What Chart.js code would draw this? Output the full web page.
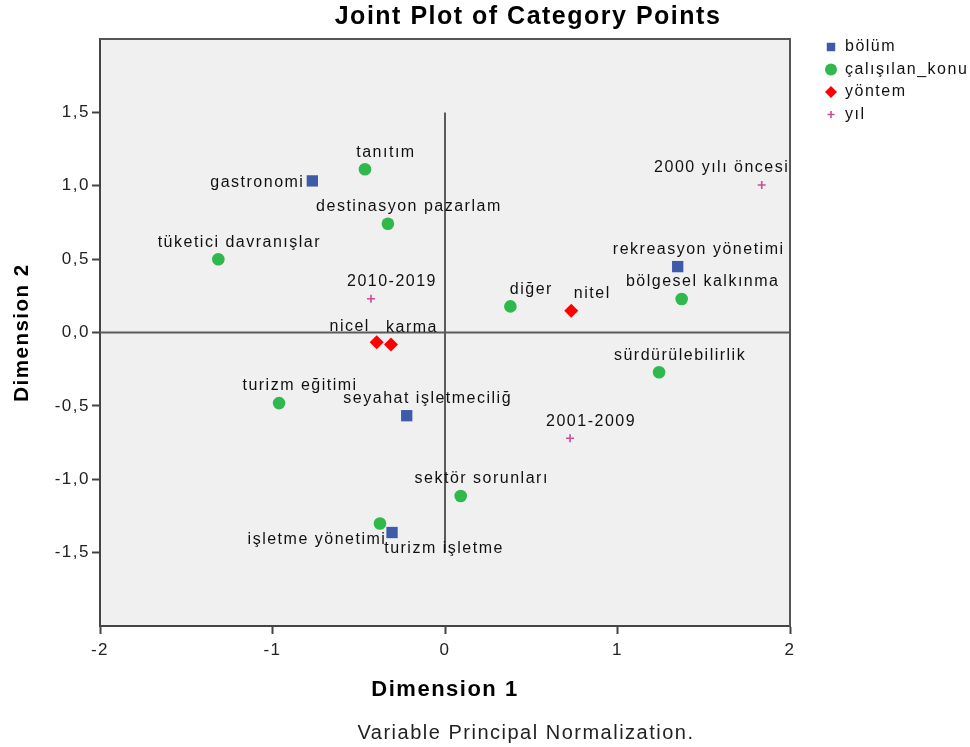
<!DOCTYPE html>
<html><head><meta charset="utf-8">
<script src="https://cdn.jsdelivr.net/npm/chart.js@4/dist/chart.umd.min.js"></script>
<style>html,body{margin:0;padding:0;background:#fff}#wrap{width:970px;height:747px;position:relative}</style>
</head><body><div id="wrap"><canvas id="c"></canvas></div>
<script>
// ---- data ----
const bolumLabels = ['gastronomi', 'rekreasyon yönetimi', 'seyahat işletmeciliğ', 'turizm işletme'];
const bolumX = [-0.769, 1.349, -0.222, -0.307];
const bolumY = [1.033, 0.449, -0.567, -1.363];

const konuLabels = ['tanıtım', 'destinasyon pazarlam', 'tüketici davranışlar', 'diğer', 'bölgesel kalkınma', 'sürdürülebilirlik', 'turizm eğitimi', 'sektör sorunları', 'işletme yönetimi'];
const konuX = [-0.464, -0.331, -1.314, 0.379, 1.372, 1.241, -0.962, 0.091, -0.377];
const konuY = [1.112, 0.741, 0.499, 0.178, 0.228, -0.271, -0.481, -1.114, -1.302];

const yontemLabels = ['nicel', 'karma', 'nitel'];
const yontemX = [-0.396, -0.313, 0.732];
const yontemY = [-0.066, -0.081, 0.149];

const yilLabels = ['2000 yılı öncesi', '2010-2019', '2001-2009'];
const yilX = [1.836, -0.429, 0.725];
const yilY = [1.005, 0.230, -0.721];

const seriesNames = ['bölüm', 'çalışılan_konu', 'yöntem', 'yıl'];
const xTicks = [-2, -1, 0, 1, 2];
const yTicks = [-1.5, -1.0, -0.5, 0.0, 0.5, 1.0, 1.5];

const chartTitle = 'Joint Plot of Category Points';
const chartSubtitle = 'Variable Principal Normalization.';
const xTitle = 'Dimension 1';
const yTitle = 'Dimension 2';

// ---- build ----
const FONT = "'Liberation Sans', Arial, Helvetica, sans-serif";
const toPts = (xs, ys) => xs.map((x, i) => ({x: x, y: ys[i]}));

const datasets = [
  {label: seriesNames[0], names: bolumLabels, data: toPts(bolumX, bolumY), pointStyle: 'rect', pointRadius: 8,
   backgroundColor: '#3d5ba9', borderColor: '#3d5ba9', borderWidth: 0},
  {label: seriesNames[1], names: konuLabels, data: toPts(konuX, konuY), pointStyle: 'circle', pointRadius: 6.3,
   backgroundColor: '#2fb84b', borderColor: '#2fb84b', borderWidth: 0},
  {label: seriesNames[2], names: yontemLabels, data: toPts(yontemX, yontemY), pointStyle: 'rectRot', pointRadius: 7,
   backgroundColor: '#ff0000', borderColor: '#ff0000', borderWidth: 0},
  {label: seriesNames[3], names: yilLabels, data: toPts(yilX, yilY), pointStyle: 'cross', pointRadius: 4,
   backgroundColor: '#cf4b98', borderColor: '#cf4b98', borderWidth: 1.6}
];

const fmtComma = v => v.toFixed(1).replace('.', ',');

const spacingPlugin = {
  id: 'spacing',
  beforeUpdate(chart) { chart.ctx.letterSpacing = '1.5px'; },
  beforeLayout(chart) { chart.ctx.letterSpacing = '1.5px'; },
  beforeDraw(chart) { chart.ctx.letterSpacing = '1.5px'; }
};

const framePlugin = {
  id: 'frame',
  beforeDraw(chart) {
    const {ctx, chartArea: a} = chart;
    ctx.save();
    ctx.fillStyle = '#f0f0f0';
    ctx.fillRect(a.left, a.top, a.right - a.left, a.bottom - a.top);
    ctx.restore();
  },
  beforeDatasetsDraw(chart) {
    const {ctx, chartArea: a, scales: {x, y}} = chart;
    ctx.save();
    ctx.strokeStyle = '#555';
    ctx.lineWidth = 2;
    ctx.beginPath();
    ctx.moveTo(a.left, a.top); ctx.lineTo(a.right, a.top); ctx.lineTo(a.right, a.bottom);
    ctx.stroke();
    // reference lines
    ctx.strokeStyle = '#5a5a5a';
    ctx.beginPath();
    const y0 = y.getPixelForValue(0);
    ctx.moveTo(a.left, y0); ctx.lineTo(a.right, y0);
    const x0 = x.getPixelForValue(0);
    ctx.moveTo(x0, y.getPixelForValue(yTicks[yTicks.length - 1]));
    ctx.lineTo(x0, y.getPixelForValue(yTicks[0]));
    ctx.stroke();
    ctx.restore();
  }
};

const headingPlugin = {
  id: 'headings',
  afterDraw(chart, args, opts) {
    const ctx = chart.ctx;
    ctx.save();
    ctx.letterSpacing = '1.5px';
    ctx.textAlign = 'center';
    ctx.textBaseline = 'middle';
    ctx.fillStyle = '#000';
    ctx.font = opts.titleFont;
    ctx.fillText(chartTitle, opts.titleX, opts.titleY);
    ctx.fillStyle = '#222';
    ctx.font = opts.subFont;
    ctx.fillText(chartSubtitle, opts.subX, opts.subY);
    ctx.restore();
  }
};

const labelPlugin = {
  id: 'pointLabels',
  afterDatasetsDraw(chart, args, opts) {
    const ctx = chart.ctx;
    ctx.save();
    ctx.letterSpacing = '1.5px';
    ctx.font = opts.font;
    ctx.fillStyle = opts.color;
    ctx.textAlign = 'center';
    ctx.textBaseline = 'middle';
    chart.data.datasets.forEach((ds, di) => {
      const meta = chart.getDatasetMeta(di);
      meta.data.forEach((pt, i) => {
        const name = ds.names[i];
        const off = opts.offsets[name] || opts.defaultOffset;
        ctx.fillText(name, pt.x + off[0], pt.y + off[1]);
      });
    });
    ctx.restore();
  }
};

const legendPlugin = {
  id: 'customLegend',
  afterDraw(chart, args, opts) {
    const ctx = chart.ctx;
    ctx.save();
    ctx.letterSpacing = '1.5px';
    ctx.font = opts.font;
    ctx.textAlign = 'left';
    ctx.textBaseline = 'middle';
    chart.data.datasets.forEach((ds, i) => {
      const yy = opts.top + i * opts.step;
      const r = Math.min(ds.pointRadius, opts.maxRadius);
      const style = {pointStyle: ds.pointStyle, radius: ds.pointStyle === 'cross' ? 3.5 : r, rotation: 0,
        borderWidth: ds.borderWidth, borderColor: ds.borderColor, backgroundColor: ds.backgroundColor};
      ctx.fillStyle = ds.backgroundColor; ctx.strokeStyle = ds.borderColor; ctx.lineWidth = ds.borderWidth;
      Chart.helpers.drawPoint(ctx, style, opts.markerX, yy);
      ctx.fillStyle = opts.color;
      ctx.fillText(ds.label, opts.textX, yy);
    });
    ctx.restore();
  }
};

new Chart(document.getElementById('c'), {
  type: 'scatter',
  data: {datasets: datasets},
  plugins: [spacingPlugin, framePlugin, labelPlugin, legendPlugin, headingPlugin],
  options: {
    responsive: true,
    maintainAspectRatio: false,
    devicePixelRatio: 1,
    animation: false,
    layout: {padding: {left: 0, right: 180, top: 39, bottom: 40}},
    elements: {point: {hoverRadius: 6}},
    plugins: {
      legend: {display: false},
      tooltip: {enabled: false},
      title: {display: false},
      headings: {titleFont: "bold 25px " + FONT, titleX: 528, titleY: 17,
                 subFont: "20px " + FONT, subX: 526, subY: 733},
      pointLabels: {
        font: "16px " + FONT, color: '#111',
        defaultOffset: [21, -17],
        offsets: {
          'nicel': [-27, -16],
          '2000 yılı öncesi': [-40, -17],
          'gastronomi': [-55, 2],
          'işletme yönetimi': [-63, 16],
          'turizm işletme': [52, 16]
        }
      },
      customLegend: {font: "16px " + FONT, color: '#111', markerX: 831, textX: 845, top: 47, step: 22.5, maxRadius: 6}
    },
    scales: {
      x: {
        type: 'linear', min: -2, max: 2,
        afterBuildTicks: s => { s.ticks = xTicks.map(v => ({value: v})); },
        afterFit: s => { s.height = 81; },
        ticks: {color: '#222', font: {family: FONT, size: 17}, padding: 6, callback: v => String(v)},
        grid: {drawOnChartArea: false, drawTicks: true, tickLength: 8, tickWidth: 2, tickColor: '#444'},
        border: {display: true, color: '#444', width: 2},
        title: {display: true, text: xTitle, color: '#000', font: {family: FONT, size: 22, weight: 'bold'}, padding: {top: 6}}
      },
      y: {
        type: 'linear', min: -2, max: 2,
        afterBuildTicks: s => { s.ticks = yTicks.map(v => ({value: v})); },
        afterFit: s => { s.width = 100; },
        ticks: {color: '#222', font: {family: FONT, size: 17}, padding: 2, callback: v => fmtComma(v)},
        grid: {drawOnChartArea: false, drawTicks: true, tickLength: 8, tickWidth: 2, tickColor: '#444'},
        border: {display: true, color: '#444', width: 2},
        title: {display: true, text: yTitle, color: '#000', font: {family: FONT, size: 20.5, weight: 'bold'}, padding: {top: 10}}
      }
    }
  }
});
</script>
</body></html>
